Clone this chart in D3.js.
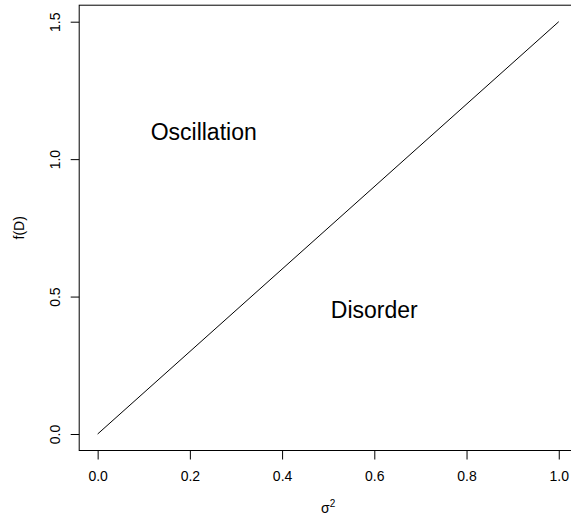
<!DOCTYPE html>
<html>
<head>
<meta charset="utf-8">
<script src="https://cdn.jsdelivr.net/npm/d3@7"></script>
<style>
  body { margin: 0; background: #fff; }
  svg { display: block; font-family: "Liberation Sans", Arial, Helvetica, sans-serif; }
</style>
</head>
<body>
<svg width="571" height="519"></svg>
<script>
// boundary line f(D) = 1.5 * sigma^2
var lineX = [0, 1];
var lineY = [0, 1.5];

var xTicks = [0, 0.2, 0.4, 0.6, 0.8, 1.0];
var yTicks = [0, 0.5, 1.0, 1.5];

// region labels (data units)
var regionNames = ["Oscillation", "Disorder"];
var regionX = [0.23, 0.6];
var regionY = [1.1, 0.45];

var svg = d3.select("svg");

// R style 4% padding on both axes
var x = d3.scaleLinear().domain([-0.04, 1.04]).range([79.2, 577.2]);
var y = d3.scaleLinear().domain([-0.06, 1.56]).range([450.5, 5.2]);

// plot box
svg.append("rect")
    .attr("x", x(-0.04))
    .attr("y", y(1.56))
    .attr("width", x(1.04) - x(-0.04))
    .attr("height", y(-0.06) - y(1.56))
    .attr("fill", "none")
    .attr("stroke", "#000")
    .attr("stroke-width", 1);

// x axis
var gx = svg.append("g")
    .attr("transform", "translate(0," + y(-0.06) + ")")
    .call(d3.axisBottom(x).tickValues(xTicks).tickFormat(d3.format(".1f")).tickSize(9).tickPadding(11.5));
gx.select(".domain").remove();
gx.selectAll("line").attr("stroke", "#000");
gx.selectAll("text")
    .attr("font-size", "14px")
    .attr("font-family", "Liberation Sans, Arial, sans-serif")
    .attr("fill", "#000");

// y axis, labels rotated like R
var gy = svg.append("g")
    .attr("transform", "translate(" + x(-0.04) + ",0)")
    .call(d3.axisLeft(y).tickValues(yTicks).tickFormat(d3.format(".1f")).tickSize(8.5));
gy.select(".domain").remove();
gy.selectAll("line").attr("stroke", "#000");
gy.selectAll("text")
    .attr("transform", "rotate(-90)")
    .attr("text-anchor", "middle")
    .attr("x", 0)
    .attr("y", -19.5)
    .attr("dy", 0)
    .attr("font-size", "14px")
    .attr("font-family", "Liberation Sans, Arial, sans-serif")
    .attr("fill", "#000");

// the boundary line
var line = d3.line()
    .x(function(d) { return x(d[0]); })
    .y(function(d) { return y(d[1]); });

svg.append("path")
    .datum(d3.zip(lineX, lineY))
    .attr("d", line)
    .attr("fill", "none")
    .attr("stroke", "#000")
    .attr("stroke-width", 1);

// region labels
svg.selectAll(".region")
    .data(regionNames)
  .enter().append("text")
    .attr("class", "region")
    .attr("x", function(d, i) { return x(regionX[i]); })
    .attr("y", function(d, i) { return y(regionY[i]); })
    .attr("dy", "0.35em")
    .attr("text-anchor", "middle")
    .attr("font-size", "23px")
    .attr("fill", "#000")
    .text(function(d) { return d; });

// axis titles
svg.append("text")
    .attr("transform", "translate(24," + ((y(-0.06) + y(1.56)) / 2) + ") rotate(-90)")
    .attr("text-anchor", "middle")
    .attr("font-size", "14px")
    .attr("fill", "#000")
    .text("f(D)");

var xl = svg.append("text")
    .attr("x", (x(-0.04) + x(1.04)) / 2)
    .attr("y", 513)
    .attr("text-anchor", "middle")
    .attr("font-size", "14px")
    .attr("fill", "#000");
xl.append("tspan").text("σ");
xl.append("tspan").attr("dy", -6).attr("font-size", "10px").text("2");
</script>
</body>
</html>
